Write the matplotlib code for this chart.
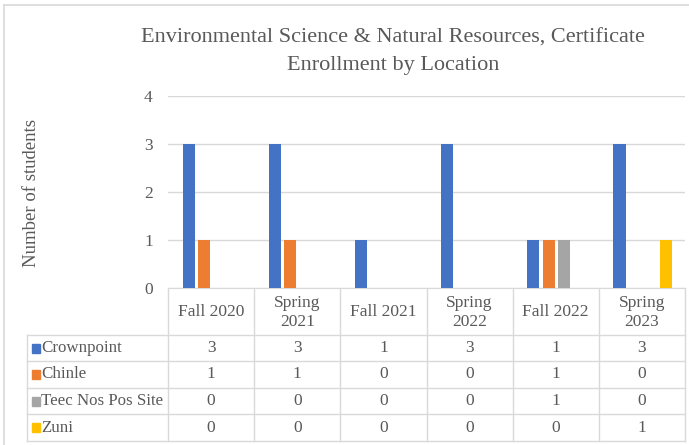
import matplotlib
matplotlib.use("Agg")
import matplotlib.pyplot as plt
from matplotlib.patches import Rectangle
import numpy as np

categories = ["Fall 2020", "Spring\n2021", "Fall 2021", "Spring\n2022", "Fall 2022", "Spring\n2023"]
series_names = ["Crownpoint", "Chinle", "Teec Nos Pos Site", "Zuni"]
crownpoint = [3, 3, 1, 3, 1, 3]
chinle = [1, 1, 0, 0, 1, 0]
teec = [0, 0, 0, 0, 1, 0]
zuni = [0, 0, 0, 0, 0, 1]
series = [crownpoint, chinle, teec, zuni]
colors = ["#4472C4", "#ED7D31", "#A5A5A5", "#FFC000"]
yticks = [0, 1, 2, 3, 4]
title = "Environmental Science & Natural Resources, Certificate\nEnrollment by Location"
ylabel = "Number of students"

plt.rcParams['font.family'] = ['Liberation Serif', 'DejaVu Serif']
W, H = 689, 445
fig = plt.figure(figsize=(W / 100, H / 100), dpi=100)

bg = fig.add_axes([0, 0, 1, 1])
bg.set_xlim(0, W)
bg.set_ylim(H, 0)
bg.axis('off')

x0, x1 = 168, 685
y0, y4 = 288, 96
ax = fig.add_axes([x0 / W, (H - y0) / H, (x1 - x0) / W, (y0 - y4) / H])
n = len(categories)
x = np.arange(n)
step = 0.18
width = 0.14
for i, (vals, c) in enumerate(zip(series, colors)):
    ax.bar(x + (i - 1.5) * step + 0.01, vals, width=width, color=c, zorder=3)
ax.set_xlim(-0.5, n - 0.5)
ax.set_ylim(0, 4)
ax.set_yticks(yticks)
ax.set_yticklabels([str(t) for t in yticks], fontsize=12.5, color="#595959")
ax.tick_params(axis='y', length=0, pad=11)
ax.set_xticks([])
ax.grid(axis='y', color="#D9D9D9", linewidth=1, zorder=0)
for s in ['top', 'right', 'left']:
    ax.spines[s].set_visible(False)
ax.spines['bottom'].set_color("#D9D9D9")

fig.text(393 / W, 1 - 52 / H, title, ha='center', va='center', fontsize=16,
         color="#595959", linespacing=1.6)
fig.text(32 / W, 1 - 193 / H, ylabel, rotation=90, ha='center', va='center',
         fontsize=13.5, color="#595959")

bg.plot([3.5, 3.5], [5, H], color="#D9D9D9", lw=1.2)
bg.plot([3.5, W], [5, 5], color="#D9D9D9", lw=1.2)

lc = "#D9D9D9"
tx0 = 27
col_edges = np.linspace(x0, x1, n + 1)
row_edges = [288, 335, 361, 388, 414, 441]
for xe in col_edges:
    bg.plot([xe, xe], [row_edges[0], row_edges[-1]], color=lc, lw=1)
bg.plot([tx0, tx0], [row_edges[1], row_edges[-1]], color=lc, lw=1)
for ye in row_edges[1:]:
    bg.plot([tx0, x1], [ye, ye], color=lc, lw=1)
centers = (col_edges[:-1] + col_edges[1:]) / 2
for c, lab in zip(centers, categories):
    bg.text(c, (row_edges[0] + row_edges[1]) / 2 + 1, lab, ha='center', va='center',
            fontsize=12.5, color="#595959", linespacing=1.2)
for r, (name, vals, col) in enumerate(zip(series_names, series, colors)):
    yc = (row_edges[r + 1] + row_edges[r + 2]) / 2
    bg.add_patch(Rectangle((32, yc - 4.5), 8, 9, color=col))
    bg.text(41, yc, name, ha='left', va='center', fontsize=12.2, color="#595959")
    for c, v in zip(centers, vals):
        bg.text(c, yc, str(v), ha='center', va='center', fontsize=12.5, color="#595959")

fig.savefig("out.png", dpi=100)
